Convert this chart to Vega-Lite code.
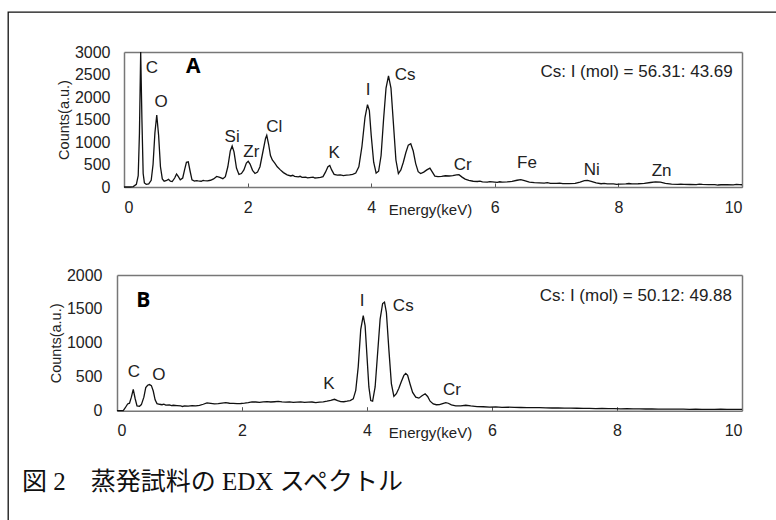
{
  "$schema": "https://vega.github.io/schema/vega-lite/v6.json",
  "width": 775,
  "height": 515,
  "autosize": {"type": "none"},
  "padding": {"left": 8, "top": 12, "right": 0, "bottom": 0},
  "background": "white",
  "title": {
    "text": "図 2　蒸発試料の EDX スペクトル",
    "orient": "bottom",
    "anchor": "start",
    "frame": "group",
    "offset": -45,
    "dx": 14,
    "baseline": "middle",
    "font": "Liberation Serif, Noto Sans CJK JP",
    "fontSize": 25,
    "fontWeight": "normal",
    "color": "#111"
  },
  "config": {
    "view": {"stroke": "#111", "strokeWidth": 1.3},
    "font": "Liberation Sans",
    "axis": {
      "grid": false,
      "domainColor": "#777",
      "domainWidth": 1.5,
      "labelFont": "Liberation Sans",
      "labelFontSize": 16,
      "labelColor": "#222",
      "titleFont": "Liberation Sans",
      "titleFontWeight": "normal",
      "titleColor": "#222",
      "tickColor": "#555"
    }
  },
  "datasets": {
    "specA": [
      {"E": 0.00, "counts": 0}, {"E": 0.10, "counts": 0}, {"E": 0.15, "counts": 10}, {"E": 0.20, "counts": 60},
      {"E": 0.23, "counts": 250}, {"E": 0.25, "counts": 1200}, {"E": 0.27, "counts": 3000}, {"E": 0.29, "counts": 1500},
      {"E": 0.31, "counts": 300}, {"E": 0.33, "counts": 90}, {"E": 0.36, "counts": 60}, {"E": 0.40, "counts": 70},
      {"E": 0.44, "counts": 150}, {"E": 0.47, "counts": 500}, {"E": 0.50, "counts": 1200}, {"E": 0.53, "counts": 1600},
      {"E": 0.56, "counts": 1150}, {"E": 0.59, "counts": 450}, {"E": 0.62, "counts": 180}, {"E": 0.65, "counts": 130},
      {"E": 0.68, "counts": 140}, {"E": 0.72, "counts": 170}, {"E": 0.75, "counts": 130}, {"E": 0.78, "counts": 120},
      {"E": 0.82, "counts": 200}, {"E": 0.85, "counts": 290}, {"E": 0.88, "counts": 230}, {"E": 0.91, "counts": 160},
      {"E": 0.95, "counts": 200}, {"E": 0.98, "counts": 380}, {"E": 1.01, "counts": 550}, {"E": 1.04, "counts": 560},
      {"E": 1.07, "counts": 350}, {"E": 1.10, "counts": 160}, {"E": 1.14, "counts": 130}, {"E": 1.17, "counts": 142},
      {"E": 1.20, "counts": 135}, {"E": 1.25, "counts": 128}, {"E": 1.28, "counts": 145}, {"E": 1.30, "counts": 140},
      {"E": 1.35, "counts": 138}, {"E": 1.40, "counts": 150}, {"E": 1.45, "counts": 180}, {"E": 1.50, "counts": 235},
      {"E": 1.55, "counts": 215}, {"E": 1.60, "counts": 185}, {"E": 1.64, "counts": 230}, {"E": 1.68, "counts": 450},
      {"E": 1.72, "counts": 800}, {"E": 1.75, "counts": 910}, {"E": 1.78, "counts": 780}, {"E": 1.82, "counts": 420},
      {"E": 1.86, "counts": 280}, {"E": 1.90, "counts": 300}, {"E": 1.94, "counts": 380}, {"E": 1.98, "counts": 530},
      {"E": 2.01, "counts": 570}, {"E": 2.04, "counts": 510}, {"E": 2.08, "counts": 370}, {"E": 2.12, "counts": 300},
      {"E": 2.16, "counts": 330}, {"E": 2.20, "counts": 450}, {"E": 2.25, "counts": 800}, {"E": 2.29, "counts": 1080},
      {"E": 2.31, "counts": 1150}, {"E": 2.34, "counts": 950}, {"E": 2.37, "counts": 700}, {"E": 2.40, "counts": 600},
      {"E": 2.44, "counts": 530}, {"E": 2.48, "counts": 450}, {"E": 2.53, "counts": 380}, {"E": 2.58, "counts": 320},
      {"E": 2.64, "counts": 270}, {"E": 2.70, "counts": 245}, {"E": 2.73, "counts": 260}, {"E": 2.76, "counts": 235},
      {"E": 2.82, "counts": 225}, {"E": 2.85, "counts": 238}, {"E": 2.88, "counts": 215}, {"E": 2.94, "counts": 220},
      {"E": 2.97, "counts": 205}, {"E": 3.00, "counts": 210}, {"E": 3.06, "counts": 218}, {"E": 3.09, "counts": 200},
      {"E": 3.12, "counts": 205}, {"E": 3.18, "counts": 212}, {"E": 3.22, "counts": 230}, {"E": 3.26, "counts": 330},
      {"E": 3.30, "counts": 450}, {"E": 3.33, "counts": 480}, {"E": 3.36, "counts": 380}, {"E": 3.40, "counts": 280},
      {"E": 3.45, "counts": 265}, {"E": 3.50, "counts": 270}, {"E": 3.55, "counts": 255}, {"E": 3.60, "counts": 262},
      {"E": 3.65, "counts": 270}, {"E": 3.70, "counts": 280}, {"E": 3.75, "counts": 310}, {"E": 3.80, "counts": 450},
      {"E": 3.85, "counts": 900}, {"E": 3.90, "counts": 1550}, {"E": 3.94, "counts": 1830}, {"E": 3.97, "counts": 1700},
      {"E": 4.00, "counts": 1150}, {"E": 4.04, "counts": 550}, {"E": 4.08, "counts": 310}, {"E": 4.12, "counts": 350},
      {"E": 4.16, "counts": 700}, {"E": 4.20, "counts": 1500}, {"E": 4.24, "counts": 2200}, {"E": 4.28, "counts": 2470},
      {"E": 4.32, "counts": 2200}, {"E": 4.36, "counts": 1400}, {"E": 4.40, "counts": 600}, {"E": 4.44, "counts": 300},
      {"E": 4.48, "counts": 380}, {"E": 4.52, "counts": 550}, {"E": 4.56, "counts": 760}, {"E": 4.60, "counts": 930},
      {"E": 4.64, "counts": 960}, {"E": 4.68, "counts": 800}, {"E": 4.72, "counts": 520}, {"E": 4.76, "counts": 340},
      {"E": 4.80, "counts": 300}, {"E": 4.85, "counts": 330}, {"E": 4.90, "counts": 380}, {"E": 4.95, "counts": 420},
      {"E": 4.99, "counts": 330}, {"E": 5.03, "counts": 240}, {"E": 5.08, "counts": 230}, {"E": 5.14, "counts": 235},
      {"E": 5.20, "counts": 250}, {"E": 5.26, "counts": 245}, {"E": 5.32, "counts": 255}, {"E": 5.38, "counts": 270},
      {"E": 5.42, "counts": 275}, {"E": 5.47, "counts": 220}, {"E": 5.52, "counts": 175}, {"E": 5.58, "counts": 145},
      {"E": 5.65, "counts": 128}, {"E": 5.72, "counts": 122}, {"E": 5.76, "counts": 130}, {"E": 5.80, "counts": 112},
      {"E": 5.88, "counts": 108}, {"E": 5.92, "counts": 120}, {"E": 5.96, "counts": 115}, {"E": 6.04, "counts": 104},
      {"E": 6.08, "counts": 116}, {"E": 6.12, "counts": 110}, {"E": 6.20, "counts": 112}, {"E": 6.28, "counts": 125},
      {"E": 6.36, "counts": 150}, {"E": 6.42, "counts": 163}, {"E": 6.48, "counts": 140}, {"E": 6.56, "counts": 110},
      {"E": 6.64, "counts": 95}, {"E": 6.72, "counts": 90}, {"E": 6.80, "counts": 86}, {"E": 6.85, "counts": 96},
      {"E": 6.90, "counts": 82}, {"E": 7.00, "counts": 79}, {"E": 7.05, "counts": 88}, {"E": 7.10, "counts": 76},
      {"E": 7.20, "counts": 75}, {"E": 7.30, "counts": 80}, {"E": 7.38, "counts": 110}, {"E": 7.45, "counts": 140},
      {"E": 7.50, "counts": 148}, {"E": 7.56, "counts": 125}, {"E": 7.64, "counts": 90}, {"E": 7.72, "counts": 72},
      {"E": 7.77, "counts": 82}, {"E": 7.82, "counts": 68}, {"E": 7.92, "counts": 70}, {"E": 7.97, "counts": 60},
      {"E": 8.02, "counts": 66}, {"E": 8.12, "counts": 68}, {"E": 8.17, "counts": 78}, {"E": 8.22, "counts": 70},
      {"E": 8.32, "counts": 72}, {"E": 8.42, "counts": 80}, {"E": 8.52, "counts": 100}, {"E": 8.60, "counts": 112},
      {"E": 8.68, "counts": 108}, {"E": 8.76, "counts": 82}, {"E": 8.86, "counts": 62}, {"E": 8.96, "counts": 58},
      {"E": 9.01, "counts": 66}, {"E": 9.06, "counts": 60}, {"E": 9.16, "counts": 56}, {"E": 9.26, "counts": 54},
      {"E": 9.31, "counts": 62}, {"E": 9.36, "counts": 57}, {"E": 9.46, "counts": 52}, {"E": 9.56, "counts": 53},
      {"E": 9.61, "counts": 44}, {"E": 9.66, "counts": 50}, {"E": 9.76, "counts": 52}, {"E": 9.86, "counts": 49},
      {"E": 9.91, "counts": 57}, {"E": 9.96, "counts": 51}, {"E": 10.00, "counts": 50}
    ],
    "specB": [
      {"E": 0.00, "counts": 0}, {"E": 0.10, "counts": 0}, {"E": 0.13, "counts": 40}, {"E": 0.17, "counts": 100},
      {"E": 0.20, "counts": 110}, {"E": 0.23, "counts": 200}, {"E": 0.26, "counts": 315}, {"E": 0.29, "counts": 180},
      {"E": 0.32, "counts": 70}, {"E": 0.36, "counts": 65}, {"E": 0.39, "counts": 90}, {"E": 0.43, "counts": 200},
      {"E": 0.46, "counts": 340}, {"E": 0.49, "counts": 375}, {"E": 0.52, "counts": 385}, {"E": 0.55, "counts": 370},
      {"E": 0.58, "counts": 290}, {"E": 0.61, "counts": 160}, {"E": 0.64, "counts": 105}, {"E": 0.68, "counts": 95},
      {"E": 0.72, "counts": 88}, {"E": 0.75, "counts": 96}, {"E": 0.78, "counts": 82}, {"E": 0.84, "counts": 86},
      {"E": 0.87, "counts": 76}, {"E": 0.90, "counts": 80}, {"E": 0.96, "counts": 76}, {"E": 1.02, "counts": 72},
      {"E": 1.05, "counts": 62}, {"E": 1.08, "counts": 70}, {"E": 1.14, "counts": 68}, {"E": 1.20, "counts": 74},
      {"E": 1.26, "counts": 72}, {"E": 1.32, "counts": 78}, {"E": 1.38, "counts": 95}, {"E": 1.44, "counts": 115},
      {"E": 1.50, "counts": 108}, {"E": 1.56, "counts": 100}, {"E": 1.62, "counts": 105}, {"E": 1.68, "counts": 112},
      {"E": 1.74, "counts": 118}, {"E": 1.80, "counts": 110}, {"E": 1.86, "counts": 108}, {"E": 1.92, "counts": 104},
      {"E": 1.98, "counts": 106}, {"E": 2.04, "counts": 112}, {"E": 2.10, "counts": 120}, {"E": 2.16, "counts": 130},
      {"E": 2.22, "counts": 128}, {"E": 2.28, "counts": 124}, {"E": 2.34, "counts": 130}, {"E": 2.40, "counts": 135},
      {"E": 2.46, "counts": 128}, {"E": 2.52, "counts": 132}, {"E": 2.58, "counts": 136}, {"E": 2.64, "counts": 130},
      {"E": 2.70, "counts": 126}, {"E": 2.76, "counts": 130}, {"E": 2.82, "counts": 122}, {"E": 2.88, "counts": 127},
      {"E": 2.94, "counts": 130}, {"E": 3.00, "counts": 124}, {"E": 3.06, "counts": 126}, {"E": 3.12, "counts": 128},
      {"E": 3.18, "counts": 120}, {"E": 3.24, "counts": 126}, {"E": 3.30, "counts": 130}, {"E": 3.36, "counts": 140},
      {"E": 3.42, "counts": 152}, {"E": 3.48, "counts": 168}, {"E": 3.53, "counts": 150}, {"E": 3.58, "counts": 135},
      {"E": 3.63, "counts": 132}, {"E": 3.68, "counts": 140}, {"E": 3.73, "counts": 150}, {"E": 3.78, "counts": 175},
      {"E": 3.82, "counts": 300}, {"E": 3.86, "counts": 650}, {"E": 3.90, "counts": 1200}, {"E": 3.94, "counts": 1400},
      {"E": 3.97, "counts": 1250}, {"E": 4.00, "counts": 800}, {"E": 4.03, "counts": 350}, {"E": 4.06, "counts": 150},
      {"E": 4.09, "counts": 140}, {"E": 4.13, "counts": 350}, {"E": 4.17, "counts": 850}, {"E": 4.21, "counts": 1350},
      {"E": 4.25, "counts": 1580}, {"E": 4.28, "counts": 1600}, {"E": 4.31, "counts": 1450}, {"E": 4.35, "counts": 900},
      {"E": 4.39, "counts": 400}, {"E": 4.43, "counts": 210}, {"E": 4.47, "counts": 250}, {"E": 4.51, "counts": 330},
      {"E": 4.55, "counts": 430}, {"E": 4.59, "counts": 520}, {"E": 4.62, "counts": 550}, {"E": 4.65, "counts": 520},
      {"E": 4.69, "counts": 390}, {"E": 4.73, "counts": 270}, {"E": 4.78, "counts": 200}, {"E": 4.83, "counts": 185},
      {"E": 4.88, "counts": 220}, {"E": 4.93, "counts": 250}, {"E": 4.97, "counts": 210}, {"E": 5.01, "counts": 140},
      {"E": 5.06, "counts": 100}, {"E": 5.11, "counts": 88}, {"E": 5.16, "counts": 90}, {"E": 5.21, "counts": 105},
      {"E": 5.26, "counts": 120}, {"E": 5.30, "counts": 110}, {"E": 5.35, "counts": 85}, {"E": 5.42, "counts": 70},
      {"E": 5.50, "counts": 72}, {"E": 5.58, "counts": 80}, {"E": 5.66, "counts": 70}, {"E": 5.76, "counts": 60},
      {"E": 5.86, "counts": 58}, {"E": 5.96, "counts": 54}, {"E": 6.06, "counts": 55}, {"E": 6.16, "counts": 50},
      {"E": 6.26, "counts": 52}, {"E": 6.36, "counts": 48}, {"E": 6.46, "counts": 47}, {"E": 6.56, "counts": 46},
      {"E": 6.66, "counts": 44}, {"E": 6.76, "counts": 45}, {"E": 6.86, "counts": 42}, {"E": 6.96, "counts": 40},
      {"E": 7.06, "counts": 41}, {"E": 7.16, "counts": 38}, {"E": 7.26, "counts": 37}, {"E": 7.36, "counts": 36},
      {"E": 7.46, "counts": 34}, {"E": 7.56, "counts": 35}, {"E": 7.66, "counts": 32}, {"E": 7.76, "counts": 33},
      {"E": 7.86, "counts": 30}, {"E": 7.96, "counts": 31}, {"E": 8.06, "counts": 28}, {"E": 8.16, "counts": 29},
      {"E": 8.26, "counts": 27}, {"E": 8.36, "counts": 26}, {"E": 8.46, "counts": 25}, {"E": 8.56, "counts": 26},
      {"E": 8.66, "counts": 24}, {"E": 8.76, "counts": 23}, {"E": 8.86, "counts": 24}, {"E": 8.96, "counts": 22},
      {"E": 9.06, "counts": 23}, {"E": 9.16, "counts": 21}, {"E": 9.26, "counts": 22}, {"E": 9.36, "counts": 20},
      {"E": 9.46, "counts": 21}, {"E": 9.56, "counts": 20}, {"E": 9.66, "counts": 21}, {"E": 9.76, "counts": 19},
      {"E": 9.86, "counts": 20}, {"E": 9.96, "counts": 19}, {"E": 10.00, "counts": 20}
    ],
    "labA": [
      {"E": 0.45, "counts": 2640, "el": "C"}, {"E": 0.60, "counts": 1890, "el": "O"},
      {"E": 1.75, "counts": 1110, "el": "Si"}, {"E": 2.06, "counts": 780, "el": "Zr"},
      {"E": 2.43, "counts": 1330, "el": "Cl"}, {"E": 3.40, "counts": 756, "el": "K"},
      {"E": 3.95, "counts": 2160, "el": "I"}, {"E": 4.55, "counts": 2490, "el": "Cs"},
      {"E": 5.48, "counts": 490, "el": "Cr"}, {"E": 6.52, "counts": 533, "el": "Fe"},
      {"E": 7.57, "counts": 378, "el": "Ni"}, {"E": 8.70, "counts": 356, "el": "Zn"}
    ],
    "labB": [
      {"E": 0.27, "counts": 573, "el": "C"}, {"E": 0.67, "counts": 529, "el": "O"},
      {"E": 3.39, "counts": 395, "el": "K"}, {"E": 3.92, "counts": 1610, "el": "I"},
      {"E": 4.58, "counts": 1536, "el": "Cs"}, {"E": 5.36, "counts": 307, "el": "Cr"}
    ],
    "tagA": [{"E": 1.12, "counts": 2667, "tag": "A"}],
    "tagB": [{"E": 0.42, "counts": 1610, "tag": "B"}],
    "ratioA": [{"E": 9.85, "counts": 2555, "txt": "Cs: I (mol) = 56.31: 43.69"}],
    "ratioB": [{"E": 9.84, "counts": 1684, "txt": "Cs: I (mol) = 50.12: 49.88"}]
  },
  "layer": [
    {
      "layer": [
        {
          "data": {"name": "specA"},
          "mark": {"type": "line", "color": "#111", "strokeWidth": 1.3},
          "encoding": {
            "x": {
              "field": "E", "type": "quantitative",
              "scale": {"domain": [0, 10], "range": [116, 734], "nice": false, "zero": false},
              "axis": {"orient": "bottom", "offset": -340, "values": [0, 2, 4, 6, 8, 10], "tickSize": -4, "labelPadding": 16,
                       "title": "Energy(keV)", "titleFontSize": 15, "titleX": 422, "titleY": 22, "titleAlign": "center", "titleBaseline": "middle"}
            },
            "y": {
              "field": "counts", "type": "quantitative",
              "scale": {"domain": [0, 3000], "range": [175, 40], "nice": false, "zero": false},
              "axis": {"orient": "left", "offset": -116, "values": [0, 500, 1000, 1500, 2000, 2500, 3000], "format": "d", "ticks": false, "labelPadding": 14,
                       "title": "Counts(a.u.)", "titleFontSize": 14.5, "titlePadding": 3}
            }
          }
        },
        {
          "data": {"name": "labA"},
          "mark": {"type": "text", "font": "Liberation Sans", "fontSize": 17, "color": "#222", "align": "center", "baseline": "middle"},
          "encoding": {
            "x": {"field": "E", "type": "quantitative", "axis": {"orient": "top", "offset": -40, "labels": false, "ticks": false, "title": null}},
            "y": {"field": "counts", "type": "quantitative", "axis": {"orient": "right", "offset": -41, "labels": false, "ticks": false, "title": null}},
            "text": {"field": "el"}
          }
        },
        {
          "data": {"name": "tagA"},
          "mark": {"type": "text", "font": "Open Sans", "fontWeight": "bold", "fontSize": 21, "color": "#000", "align": "center", "baseline": "middle"},
          "encoding": {
            "x": {"field": "E", "type": "quantitative", "axis": null},
            "y": {"field": "counts", "type": "quantitative", "axis": null},
            "text": {"field": "tag"}
          }
        },
        {
          "data": {"name": "ratioA"},
          "mark": {"type": "text", "font": "Liberation Sans", "fontSize": 17, "color": "#222", "align": "right", "baseline": "middle"},
          "encoding": {
            "x": {"field": "E", "type": "quantitative", "axis": null},
            "y": {"field": "counts", "type": "quantitative", "axis": null},
            "text": {"field": "txt"}
          }
        }
      ],
      "resolve": {"axis": {"x": "independent", "y": "independent"}}
    },
    {
      "layer": [
        {
          "data": {"name": "specB"},
          "mark": {"type": "line", "color": "#111", "strokeWidth": 1.3},
          "encoding": {
            "x": {
              "field": "E", "type": "quantitative",
              "scale": {"domain": [0, 10], "range": [109, 734], "nice": false, "zero": false},
              "axis": {"orient": "bottom", "offset": -116.3, "values": [0, 2, 4, 6, 8, 10], "tickSize": -4, "labelPadding": 16,
                       "title": "Energy(keV)", "titleFontSize": 15, "titleX": 422, "titleY": 22, "titleAlign": "center", "titleBaseline": "middle"}
            },
            "y": {
              "field": "counts", "type": "quantitative",
              "scale": {"domain": [0, 2000], "range": [398.7, 263], "nice": false, "zero": false},
              "axis": {"orient": "left", "offset": -109, "values": [0, 500, 1000, 1500, 2000], "format": "d", "ticks": false, "labelPadding": 15,
                       "title": "Counts(a.u.)", "titleFontSize": 14.5, "titlePadding": 3}
            }
          }
        },
        {
          "data": {"name": "labB"},
          "mark": {"type": "text", "font": "Liberation Sans", "fontSize": 17, "color": "#222", "align": "center", "baseline": "middle"},
          "encoding": {
            "x": {"field": "E", "type": "quantitative", "axis": {"orient": "top", "offset": -263, "labels": false, "ticks": false, "title": null}},
            "y": {"field": "counts", "type": "quantitative", "axis": {"orient": "right", "offset": -41, "labels": false, "ticks": false, "title": null}},
            "text": {"field": "el"}
          }
        },
        {
          "data": {"name": "tagB"},
          "mark": {"type": "text", "font": "Open Sans", "fontWeight": "bold", "fontSize": 21, "color": "#000", "align": "center", "baseline": "middle"},
          "encoding": {
            "x": {"field": "E", "type": "quantitative", "axis": null},
            "y": {"field": "counts", "type": "quantitative", "axis": null},
            "text": {"field": "tag"}
          }
        },
        {
          "data": {"name": "ratioB"},
          "mark": {"type": "text", "font": "Liberation Sans", "fontSize": 17, "color": "#222", "align": "right", "baseline": "middle"},
          "encoding": {
            "x": {"field": "E", "type": "quantitative", "axis": null},
            "y": {"field": "counts", "type": "quantitative", "axis": null},
            "text": {"field": "txt"}
          }
        }
      ],
      "resolve": {"axis": {"x": "independent", "y": "independent"}}
    }
  ],
  "resolve": {"scale": {"x": "independent", "y": "independent"}, "axis": {"x": "independent", "y": "independent"}}
}
